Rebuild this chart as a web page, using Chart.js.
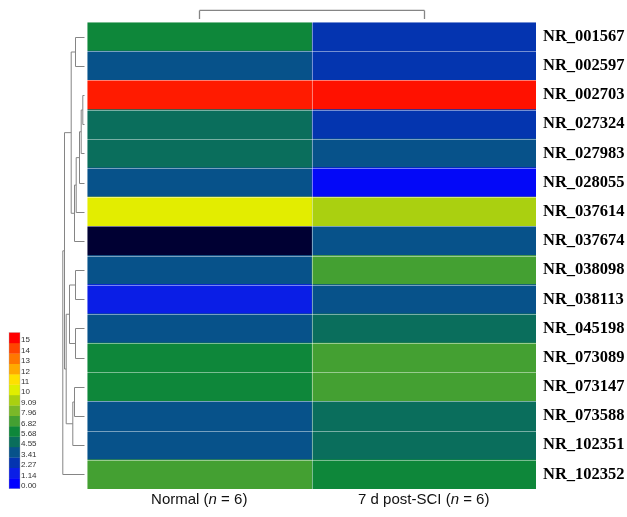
<!DOCTYPE html>
<html>
<head>
<meta charset="utf-8">
<script src="https://cdn.jsdelivr.net/npm/chart.js@4/dist/chart.umd.min.js"></script>
<style>
  html, body { margin: 0; padding: 0; background: #ffffff; }
  #wrap { width: 627px; height: 517px; }
</style>
</head>
<body>
<div id="wrap"><canvas id="heat" width="627" height="517"></canvas></div>
<script>
// Transcript IDs (rows, top to bottom) and sample groups (columns)
const genes = ['NR_001567', 'NR_002597', 'NR_002703', 'NR_027324', 'NR_027983', 'NR_028055',
  'NR_037614', 'NR_037674', 'NR_038098', 'NR_038113', 'NR_045198', 'NR_073089',
  'NR_073147', 'NR_073588', 'NR_102351', 'NR_102352'];
const groups = ['Normal', '7 d post-SCI'];
const groupN = [6, 6];

// Expression levels per group
const normalValues = [5.68, 3.41, 14.6, 4.55, 4.55, 3.41, 10.1, -1, 3.41, 1.14, 3.41, 5.68, 5.68, 3.41, 3.41, 6.82];
const sciValues    = [2.27, 2.3, 14.75, 2.3, 3.41, 0.3, 9.09, 3.41, 6.82, 3.41, 4.55, 6.82, 6.82, 4.55, 4.55, 5.68];

// Colour key
const keyValues  = [0, 1.14, 2.27, 3.41, 4.55, 5.68, 6.82, 7.96, 9.09, 10, 11, 12, 13, 14, 15];
const keyLabels  = ['0.00', '1.14', '2.27', '3.41', '4.55', '5.68', '6.82', '7.96', '9.09', '10', '11', '12', '13', '14', '15'];
const keyColours = ['#0000ff', '#0a1ee6', '#0434b0', '#07528a', '#0a6e5c', '#0e873a', '#44a032',
  '#7ab828', '#aad010', '#e0ee00', '#ffe000', '#ffaa00', '#ff7700', '#ff4400', '#ff0000'];
const belowRangeColour = '#000033';

// Row clustering: [child A, child B, linkage distance]; leaves are 0..15, merged nodes 16+
const rowMerges = [
  [0, 1, 9.0],    // 16
  [2, 3, 1.7],    // 17
  [17, 4, 3.3],   // 18
  [18, 5, 5.0],   // 19
  [19, 6, 8.3],   // 20
  [20, 7, 10.0],  // 21
  [16, 21, 13.3], // 22
  [8, 9, 9.0],    // 23
  [10, 11, 9.0],  // 24
  [23, 24, 15.0], // 25
  [12, 13, 10.0], // 26
  [26, 14, 11.7], // 27
  [25, 27, 18.3], // 28
  [22, 28, 20.0], // 29
  [29, 15, 21.7]  // 30
];
// Column clustering
const colMerges = [[0, 1, 1.0]];

function hexToRgb(h) {
  const n = parseInt(h.slice(1), 16);
  return [(n >> 16) & 255, (n >> 8) & 255, n & 255];
}
function colourFor(v) {
  if (v < keyValues[0]) return belowRangeColour;
  if (v >= keyValues[keyValues.length - 1]) return keyColours[keyColours.length - 1];
  for (let i = 0; i < keyValues.length - 1; i++) {
    if (v >= keyValues[i] && v <= keyValues[i + 1]) {
      const t = (v - keyValues[i]) / (keyValues[i + 1] - keyValues[i]);
      const a = hexToRgb(keyColours[i]), b = hexToRgb(keyColours[i + 1]);
      const c = a.map((x, k) => Math.round(x + (b[k] - x) * t));
      return 'rgb(' + c.join(',') + ')';
    }
  }
  return keyColours[0];
}

// Draws a dendrogram from a merge list; leafPos(i) gives the leaf position along the axis
function drawTree(ctx, merges, leafCount, leafPos, baseline, unit, horizontal) {
  const pos = [], depth = [];
  for (let i = 0; i < leafCount; i++) { pos.push(leafPos(i)); depth.push(0); }
  ctx.beginPath();
  merges.forEach(([a, b, h]) => {
    const p = (pos[a] + pos[b]) / 2;
    const d = baseline - h * unit;
    [a, b].forEach(c => {
      const from = baseline - depth[c] * unit;
      if (horizontal) { ctx.moveTo(from, pos[c]); ctx.lineTo(d, pos[c]); }
      else { ctx.moveTo(pos[c], from); ctx.lineTo(pos[c], d); }
    });
    if (horizontal) { ctx.moveTo(d, pos[a]); ctx.lineTo(d, pos[b]); }
    else { ctx.moveTo(pos[a], d); ctx.lineTo(pos[b], d); }
    pos.push(p); depth.push(h);
  });
  ctx.stroke();
}

const extras = {
  id: 'extras',
  afterDatasetsDraw(chart) {
    // light separators between cells
    const ctx = chart.ctx;
    const area = chart.chartArea;
    const xs = chart.scales.x, ys = chart.scales.y;
    ctx.save();
    ctx.strokeStyle = 'rgba(255,255,255,0.45)';
    ctx.lineWidth = 1;
    ctx.beginPath();
    for (let i = 0; i <= genes.length; i++) {
      const y = Math.round(ys.getPixelForValue(i - 0.5)) + 0.5;
      ctx.moveTo(area.left, y); ctx.lineTo(area.right, y);
    }
    for (let j = 0; j <= groups.length; j++) {
      const x = Math.round(xs.getPixelForValue(j)) + 0.5;
      ctx.moveTo(x, area.top); ctx.lineTo(x, area.bottom);
    }
    ctx.stroke();
    ctx.restore();
  },
  afterDraw(chart) {
    const ctx = chart.ctx;
    const area = chart.chartArea;
    const xs = chart.scales.x, ys = chart.scales.y;
    ctx.save();

    // row dendrogram
    ctx.strokeStyle = '#858585';
    ctx.lineWidth = 1;
    drawTree(ctx, rowMerges, genes.length, i => Math.round(ys.getPixelForValue(i)) + 0.5,
      area.left - 2.5, 1, true);

    // column dendrogram
    ctx.lineWidth = 1.3;
    drawTree(ctx, colMerges, groups.length, i => Math.round(xs.getPixelForValue(i + 0.5)) + 0.5,
      area.top - 3, 8.6, false);

    // column labels with italic n
    ctx.fillStyle = '#111111';
    ctx.textBaseline = 'middle';
    const regular = '15px "Liberation Sans", Arial, sans-serif';
    const italic = 'italic 15px "Liberation Sans", Arial, sans-serif';
    groups.forEach((g, i) => {
      const parts = [[g + ' (', regular], ['n', italic], [' = ' + groupN[i] + ')', regular]];
      let total = 0;
      parts.forEach(([t, f]) => { ctx.font = f; total += ctx.measureText(t).width; });
      let x = xs.getPixelForValue(i + 0.5) - total / 2;
      const y = area.bottom + 11;
      ctx.textAlign = 'left';
      parts.forEach(([t, f]) => { ctx.font = f; ctx.fillText(t, x, y); x += ctx.measureText(t).width; });
    });

    // colour key
    const keyLeft = 9, keyW = 11, blockH = 10.4;
    const keyBottom = area.bottom - 0.5;
    const n = keyColours.length;
    for (let i = 0; i < n; i++) {
      const top = keyBottom - (i + 1) * blockH;
      ctx.fillStyle = keyColours[i];
      ctx.fillRect(keyLeft, top, keyW, blockH + 0.3);
    }
    ctx.strokeStyle = 'rgba(180,180,180,0.6)';
    ctx.lineWidth = 0.6;
    ctx.strokeRect(keyLeft, keyBottom - n * blockH, keyW, n * blockH);
    ctx.fillStyle = '#333333';
    ctx.font = '8px "Liberation Sans", Arial, sans-serif';
    ctx.textAlign = 'left';
    ctx.textBaseline = 'middle';
    for (let i = 0; i < n; i++) {
      const top = keyBottom - (i + 1) * blockH;
      ctx.fillText(keyLabels[i], keyLeft + keyW + 1, top + blockH / 2 + 2.5);
    }
    ctx.restore();
  }
};

new Chart(document.getElementById('heat'), {
  type: 'bar',
  data: {
    labels: genes,
    datasets: [
      { label: groups[0], data: normalValues.map(() => [0, 1]), backgroundColor: normalValues.map(colourFor) },
      { label: groups[1], data: sciValues.map(() => [1, 2]), backgroundColor: sciValues.map(colourFor) }
    ]
  },
  options: {
    indexAxis: 'y',
    responsive: false,
    animation: false,
    devicePixelRatio: 1,
    layout: { padding: { left: 87, top: 22, bottom: 28, right: 0 } },
    datasets: { bar: { grouped: false, barPercentage: 1, categoryPercentage: 1, borderWidth: 0 } },
    plugins: { legend: { display: false }, tooltip: { enabled: false } },
    scales: {
      x: {
        type: 'linear', min: 0, max: 2,
        ticks: { stepSize: 1, display: false },
        grid: { display: false, drawTicks: false },
        border: { display: false }
      },
      y: {
        type: 'category', position: 'right', offset: true,
        afterFit(scale) { scale.width = 91; },
        grid: { display: false, drawTicks: false },
        border: { display: false },
        ticks: { padding: 7, color: '#000000', font: { family: '"Liberation Serif", "Times New Roman", serif', size: 16.5, weight: 'bold' } }
      }
    }
  },
  plugins: [extras]
});
</script>
</body>
</html>
